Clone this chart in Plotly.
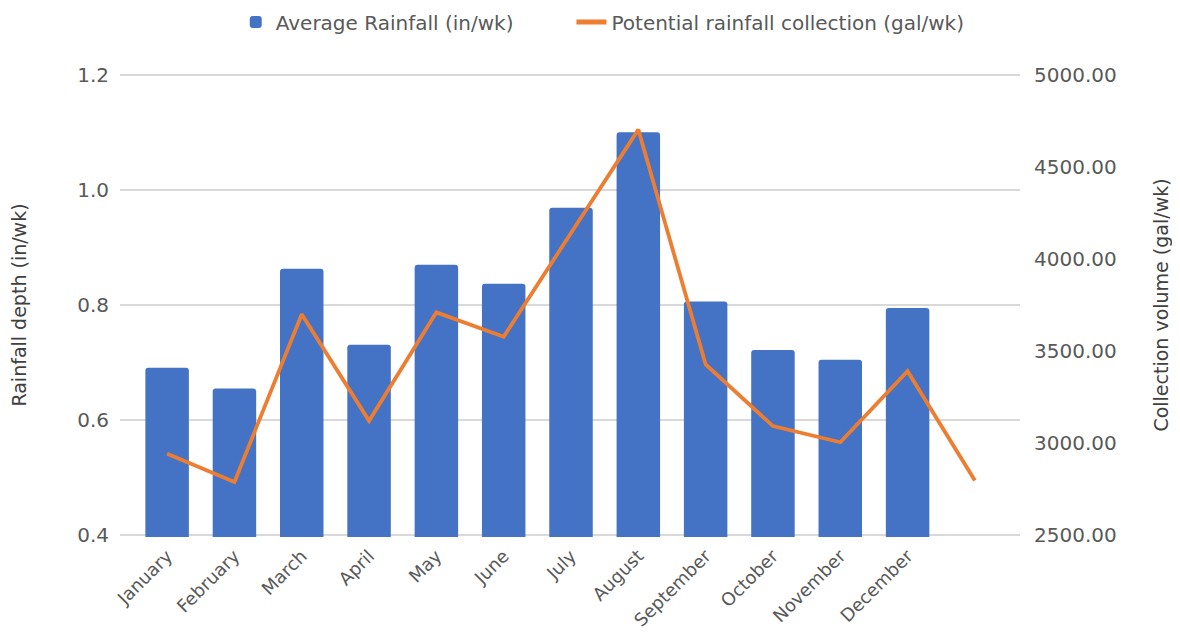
import plotly.graph_objects as go

months = ["January", "February", "March", "April", "May", "June", "July",
          "August", "September", "October", "November", "December"]
rainfall_in_wk = [0.691, 0.655, 0.863, 0.731, 0.870, 0.837, 0.969, 1.100,
                  0.806, 0.722, 0.705, 0.795]
# line series has 13 points (one extra past December)
collection_gal_wk = [2942, 2789, 3700, 3121, 3710, 3578, 4141, 4702,
                     3427, 3093, 3005, 3391, 2798]

bar_x = list(range(len(months)))
line_x = list(range(len(collection_gal_wk)))

font_family = "DejaVu Sans, sans-serif"
text_color = "#595959"
grid_color = "#d9d9d9"

eps = 0.003
fig = go.Figure()
fig.add_trace(go.Bar(
    x=bar_x, y=rainfall_in_wk, name="Average Rainfall (in/wk)",
    marker=dict(color="#4472C4", cornerradius=3, line=dict(width=0)),
    width=0.646, yaxis="y", legend="legend",
))
fig.add_trace(go.Scatter(
    x=line_x, y=collection_gal_wk, name="Potential rainfall collection (gal/wk)",
    mode="lines", line=dict(color="#ED7D31", width=3.8), yaxis="y2", legend="legend2",
))

legend_common = dict(orientation="h", xref="container", yref="container",
                     xanchor="left", y=0.978, yanchor="middle",
                     font=dict(size=20, color=text_color), itemwidth=30,
                     itemsizing="constant", bgcolor="rgba(0,0,0,0)")

fig.update_layout(
    width=1180, height=639,
    margin=dict(l=112, r=168, t=65, b=110),
    paper_bgcolor="white", plot_bgcolor="white",
    font=dict(family=font_family, color=text_color, size=18),
    showlegend=True,
    legend=dict(x=0.193, **legend_common),
    legend2=dict(x=0.4775, **legend_common),
    xaxis=dict(
        range=[-0.7, 12.67], tickmode="array", tickvals=bar_x, ticktext=months,
        tickangle=-45, showgrid=False, zeroline=False, showline=False,
        ticks="", tickfont=dict(size=18, color=text_color), automargin=False,
        ticklabelstandoff=4,
    ),
    yaxis=dict(
        range=[0.4 - eps, 1.2 + eps], tickvals=[0.4, 0.6, 0.8, 1.0, 1.2], tickformat=".1f",
        showgrid=True, gridcolor=grid_color, gridwidth=1.5, zeroline=False,
        showline=False, ticks="", tickfont=dict(size=20, color=text_color),
        ticklabelstandoff=10, automargin=False,
        title=dict(text="Rainfall depth (in/wk)", font=dict(size=19, color="#404040"),
                   standoff=46),
    ),
    yaxis2=dict(
        range=[2500 - eps * 3125, 5000 + eps * 3125],
        tickvals=[2500, 3000, 3500, 4000, 4500, 5000],
        tickformat=".2f", overlaying="y", side="right",
        showgrid=False, zeroline=False, showline=False, ticks="",
        tickfont=dict(size=20, color=text_color), ticklabelstandoff=13, automargin=False,
        title=dict(text="Collection volume (gal/wk)", font=dict(size=19, color="#404040"),
                   standoff=38),
    ),
)
fig.write_html("out.html")
